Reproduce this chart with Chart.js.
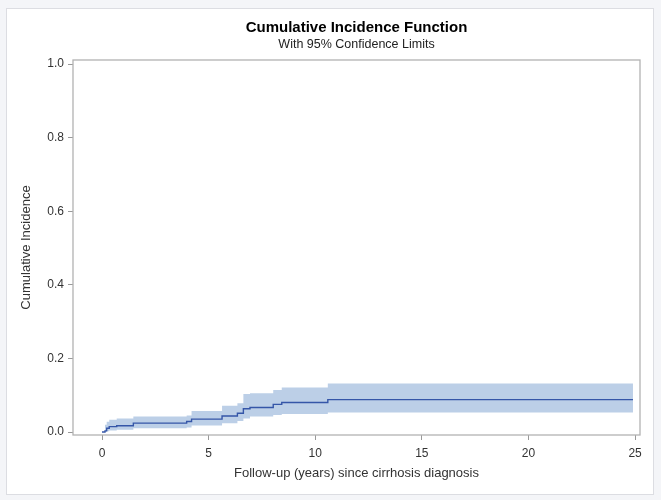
<!DOCTYPE html>
<html><head><meta charset="utf-8">
<script src="https://cdn.jsdelivr.net/npm/chart.js@4/dist/chart.umd.min.js"></script>
<style>
html,body{margin:0;padding:0;background:#f4f5f8;width:661px;height:500px;overflow:hidden}
#panel{position:absolute;left:6px;top:8px;width:646px;height:485px;background:#fff;border:1px solid #dcdde2;}
#c{position:absolute;left:0;top:0;width:661px;height:500px}
</style></head><body>
<div id="panel"></div>
<canvas id="c" width="661" height="500"></canvas>
<script>
const times    = [0, 0.14, 0.22, 0.34, 0.69, 1.47, 3.97, 4.20, 5.63, 6.35, 6.63, 6.94, 8.03, 8.43, 10.59, 24.9];
const estimate = [0, 0.003, 0.010, 0.0145, 0.017, 0.024, 0.0285, 0.035, 0.0435, 0.051, 0.063, 0.0665, 0.075, 0.080, 0.088, 0.088];
const lowerCL  = [0, 0.0005, 0.002, 0.004, 0.006, 0.010, 0.012, 0.018, 0.024, 0.030, 0.037, 0.042, 0.046, 0.049, 0.053, 0.053];
const upperCL  = [0, 0.020, 0.028, 0.033, 0.037, 0.042, 0.045, 0.057, 0.071, 0.078, 0.103, 0.105, 0.114, 0.121, 0.132, 0.132];
const xTicks = [0, 5, 10, 15, 20, 25];
const yTicks = [0, 0.2, 0.4, 0.6, 0.8, 1.0];

const pts = arr => times.map((t, i) => ({x: t, y: arr[i]}));
const FONT = "'Liberation Sans', Arial, sans-serif";

const frame = {
  id: 'frame',
  afterDatasetsDraw(chart) {
    const {ctx, chartArea: a} = chart;
    ctx.save();
    ctx.strokeStyle = '#b2b2b2';
    ctx.lineWidth = 1.3;
    ctx.strokeRect(a.left, a.top, a.right - a.left, a.bottom - a.top);
    ctx.restore();
  }
};

new Chart(document.getElementById('c'), {
  type: 'line',
  data: {
    datasets: [
      {label: 'Estimate', data: pts(estimate), stepped: 'before', borderColor: '#3556a8', borderWidth: 1.4, pointRadius: 0, fill: false, order: 0},
      {label: 'Lower', data: pts(lowerCL), stepped: 'before', borderWidth: 0, borderColor: 'rgba(0,0,0,0)', pointRadius: 0, fill: '+1', backgroundColor: '#bccfe7', order: 1},
      {label: 'Upper', data: pts(upperCL), stepped: 'before', borderWidth: 0, borderColor: 'rgba(0,0,0,0)', pointRadius: 0, fill: false, order: 2}
    ]
  },
  options: {
    responsive: false,
    animation: false,
    devicePixelRatio: 1,
    layout: {padding: {left: 0, right: 21, top: 0, bottom: 0}},
    plugins: {
      legend: {display: false},
      tooltip: {enabled: false},
      title: {display: true, fullSize: false, text: 'Cumulative Incidence Function', color: '#000',
        font: {family: FONT, size: 15, weight: 'bold'}, padding: {top: 19, bottom: 0.5}},
      subtitle: {display: true, fullSize: false, text: 'With 95% Confidence Limits', color: '#222',
        font: {family: FONT, size: 12.5}, padding: {top: 0, bottom: 7.5}}
    },
    scales: {
      x: {
        type: 'linear', min: -1.36, max: 25.23,
        afterBuildTicks: s => { s.ticks = xTicks.map(v => ({value: v})); },
        afterFit: s => { s.height = 65; },
        border: {display: false},
        grid: {drawOnChartArea: false, drawTicks: true, tickLength: 5, color: '#999'},
        ticks: {color: '#333', font: {family: FONT, size: 12}, padding: 6, maxRotation: 0,
          callback: v => String(v)},
        title: {display: true, text: 'Follow-up (years) since cirrhosis diagnosis', color: '#333',
          font: {family: FONT, size: 13}, padding: {top: 0, bottom: 19.2}}
      },
      y: {
        type: 'linear', min: -0.00815, max: 1.0109,
        afterBuildTicks: s => { s.ticks = yTicks.map(v => ({value: v})); },
        afterFit: s => { s.width = 73; },
        border: {display: false},
        grid: {drawOnChartArea: false, drawTicks: true, tickLength: 5, color: '#999'},
        ticks: {color: '#333', font: {family: FONT, size: 12}, padding: 4,
          callback: v => v.toFixed(1)},
        title: {display: true, text: 'Cumulative Incidence', color: '#333',
          font: {family: FONT, size: 13}, padding: {top: 18.9, bottom: 0}}
      }
    }
  },
  plugins: [frame]
});
</script>
</body></html>
